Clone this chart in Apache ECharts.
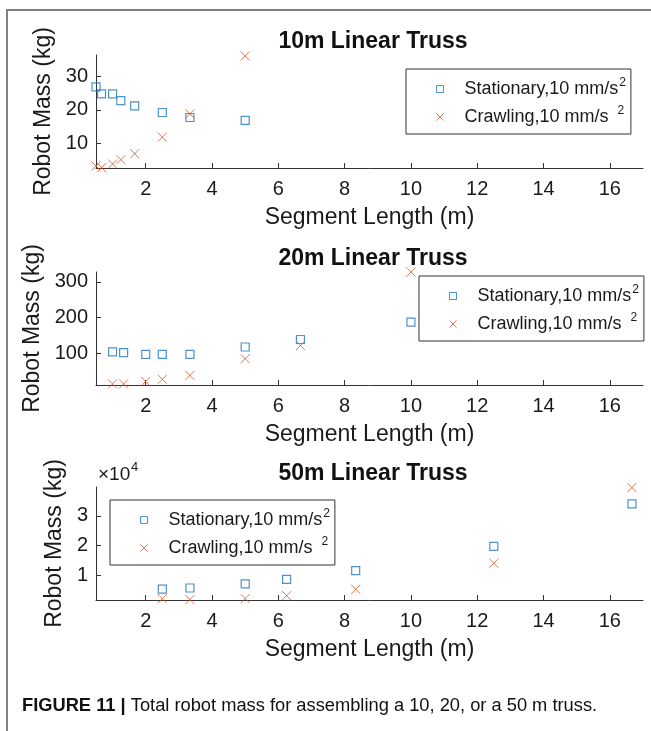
<!DOCTYPE html>
<html>
<head>
<meta charset="utf-8">
<script src="https://cdn.jsdelivr.net/npm/echarts@6/dist/echarts.min.js"></script>
<style>
html,body{margin:0;padding:0;background:#fff;}
#c{width:651px;height:731px;}
</style>
</head>
<body>
<div id="c"></div>
<script>
// ---- data ----
const xTicks = [2, 4, 6, 8, 10, 12, 14, 16];

const x10 = [0.5, 0.667, 1, 1.25, 1.667, 2.5, 3.333, 5];
const stat10 = [26.9, 24.8, 24.8, 22.8, 21.2, 19.2, 17.7, 16.8];
const crawl10 = [3.1, 2.6, 3.7, 5.0, 6.8, 11.8, 18.8, 36.2];
const yTicks10 = [10, 20, 30];

const x20 = [1, 1.333, 2, 2.5, 3.333, 5, 6.667, 10];
const stat20 = [103, 101, 96, 96, 96, 117, 138, 187];
const crawl20 = [13, 13, 20, 26, 37, 84, 121, 328];
const yTicks20 = [100, 200, 300];

const x50 = [2.5, 3.333, 5, 6.25, 8.333, 12.5, 16.667];
const stat50 = [5200, 5600, 7000, 8500, 11500, 19700, 34100];
const crawl50 = [2000, 1700, 2000, 3000, 5150, 14000, 39600];
const yTicks50 = [10000, 20000, 30000];

const titles = ['10m Linear Truss', '20m Linear Truss', '50m Linear Truss'];
const statName = 'Stationary,10 mm/s2';
const crawlName = 'Crawling,10 mm/s 2';
const xName = 'Segment Length (m)';
const yName = 'Robot Mass (kg)';
const caption = 'Total robot mass for assembling a 10, 20, or a 50 m truss.';
const captionLead = 'FIGURE 11 |';

// ---- styling ----
const FONT = '"Liberation Sans", Arial, Helvetica, sans-serif';
const AX = '#333';
const TXT = '#1a1a1a';
const BLUE = '#1f77c4';
const ORANGE = '#d9532a';
const XPATH = 'path://M0,0L10,10M0,10L10,0';

const panels = [
  {x: x10, s: stat10, c: crawl10, yt: yTicks10, min: 2.5, max: 36.5, top: 55, nameGap: 40, fmt: v => v},
  {x: x20, s: stat20, c: crawl20, yt: yTicks20, min: 10, max: 328, top: 272, nameGap: 40, fmt: v => v},
  {x: x50, s: stat50, c: crawl50, yt: yTicks50, min: 1530, max: 39800, top: 487, nameGap: 22, fmt: v => v / 10000}
];
const legendPos = [
  {left: 406, top: 69},
  {left: 419, top: 276},
  {left: 110, top: 500}
];

function legendFmt(name) {
  if (name === statName) return '{a|Stationary,10 mm/s}{s|2}';
  return '{a|Crawling,10 mm/s}{t|2}';
}

const grid = [], xAxis = [], yAxis = [], series = [], title = [], legend = [];
panels.forEach((p, i) => {
  grid.push({left: 96, width: 547, top: p.top, height: 113});
  xAxis.push({
    type: 'value', gridIndex: i, min: 0.5, max: 17,
    axisLine: {show: true, onZero: false, lineStyle: {color: AX, width: 1}},
    axisTick: {show: true, inside: true, length: 5, customValues: xTicks, lineStyle: {color: AX}},
    axisLabel: {customValues: xTicks, fontSize: 20, color: TXT, margin: 11, fontFamily: FONT},
    splitLine: {show: false},
    name: xName, nameLocation: 'middle', nameGap: 38,
    nameTextStyle: {fontSize: 23, color: TXT, fontFamily: FONT}
  });
  yAxis.push({
    type: 'value', gridIndex: i, min: p.min, max: p.max,
    axisLine: {show: true, onZero: false, lineStyle: {color: AX, width: 1}},
    axisTick: {show: true, inside: true, length: 5, customValues: p.yt, lineStyle: {color: AX}},
    axisLabel: {customValues: p.yt, fontSize: 20, color: TXT, margin: 8, fontFamily: FONT, formatter: p.fmt},
    splitLine: {show: false},
    name: yName, nameLocation: 'middle', nameGap: p.nameGap,
    nameTextStyle: {fontSize: 23, color: TXT, fontFamily: FONT}
  });
  series.push({
    type: 'scatter', name: statName, xAxisIndex: i, yAxisIndex: i,
    data: p.x.map((v, k) => [v, p.s[k]]),
    symbol: 'rect', symbolSize: 8,
    itemStyle: {color: 'none', borderColor: BLUE, borderWidth: 1.2},
    emphasis: {disabled: true}
  });
  series.push({
    type: 'scatter', name: crawlName, xAxisIndex: i, yAxisIndex: i,
    data: p.x.map((v, k) => [v, p.c[k]]),
    symbol: XPATH, symbolSize: 9,
    itemStyle: {color: 'none', borderColor: ORANGE, borderWidth: 1},
    emphasis: {disabled: true}
  });
  title.push({
    text: titles[i], left: 368, textAlign: 'center', top: p.top - 30,
    textStyle: {fontSize: 23, fontWeight: 'bold', color: '#111', fontFamily: FONT}
  });
  legend.push({
    data: [statName, crawlName], orient: 'vertical',
    left: legendPos[i].left, top: legendPos[i].top,
    padding: [8, 5, 8, 28], itemGap: 7, itemWidth: 7, itemHeight: 7,
    borderColor: '#333', borderWidth: 1, backgroundColor: '#fff',
    selectedMode: false,
    formatter: legendFmt,
    itemStyle: {borderWidth: 1},
    textStyle: {
      fontSize: 18, color: TXT, fontFamily: FONT, padding: [0, 0, 0, 16],
      rich: {
        a: {fontSize: 18, lineHeight: 24, fontFamily: FONT, color: TXT},
        s: {fontSize: 12, lineHeight: 12, verticalAlign: 'top', fontFamily: FONT, color: TXT, padding: [0, 0, 0, 1]},
        t: {fontSize: 12, lineHeight: 12, verticalAlign: 'top', fontFamily: FONT, color: TXT, padding: [0, 0, 0, 9]}
      }
    }
  });
});

const option = {
  animation: false,
  backgroundColor: '#fff',
  title, grid, xAxis, yAxis, series, legend,
  graphic: [
    {type: 'polyline', shape: {points: [[7, 731], [7, 10], [651, 10]]}, style: {stroke: '#808080', lineWidth: 2, fill: 'none'}, silent: true},
    {type: 'text', left: 98, top: 465, style: {text: '×10', fill: TXT, font: '19px ' + FONT}},
    {type: 'text', left: 131, top: 461, style: {text: '4', fill: TXT, font: '13px ' + FONT}},
    {type: 'text', left: 22, top: 697, style: {
      text: '{b|' + captionLead + '}{r| ' + caption + '}',
      rich: {
        b: {fontSize: 18.3, fontWeight: 'bold', fill: '#111', fontFamily: FONT},
        r: {fontSize: 18.3, fill: '#111', fontFamily: FONT}
      }
    }}
  ]
};

const chart = echarts.init(document.getElementById('c'), null, {renderer: 'canvas'});
chart.setOption(option);
</script>
</body>
</html>
